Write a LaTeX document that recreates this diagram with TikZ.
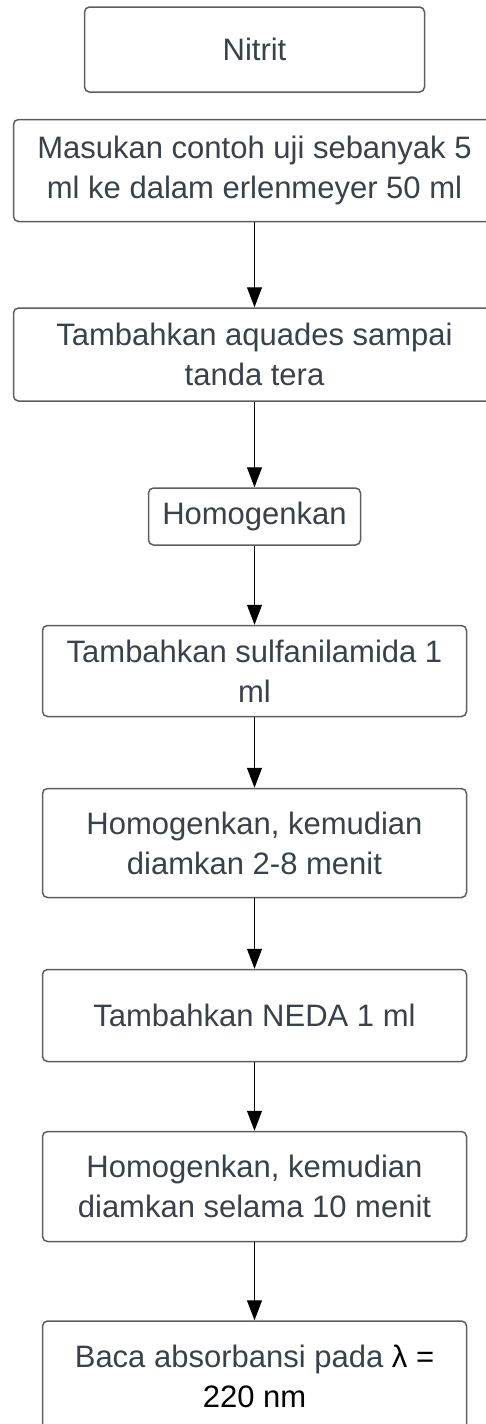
\documentclass[tikz,border=0pt]{standalone}
\usepackage{fontspec}
\setmainfont{Liberation Sans}
\usetikzlibrary{arrows.meta,positioning}
\definecolor{boxline}{HTML}{5E5E5E}
\definecolor{steptext}{HTML}{3A414A}
\tikzset{
  stepbox/.style={draw=boxline, line width=0.75pt, rounded corners=2.5pt, align=center,
    text=steptext, inner sep=2pt, font=\fontsize{15.5pt}{20pt}\selectfont},
  widebox/.style={stepbox, minimum width=241pt},
  midbox/.style={stepbox, minimum width=212pt},
  arr/.style={-{Triangle[length=10pt,width=7.5pt]}, line width=0.5pt, draw=black}
}
\begin{document}
\begin{tikzpicture}[node distance=35.25pt]
    \path[use as bounding box, clip] (0,0) rectangle (243pt,-712pt);
    \node[stepbox, minimum width=170pt, minimum height=42.5pt] (nitrit) at (127.25pt,-24.75pt) {Nitrit};
    \node[widebox, minimum height=51pt, below=13pt of nitrit] (sampel) {Masukan contoh uji sebanyak 5\\ml ke dalam erlenmeyer 50 ml};
    \node[widebox, minimum height=46.5pt, below=42.5pt of sampel] (aquades) {Tambahkan aquades sampai\\tanda tera};
    \node[stepbox, minimum width=106pt, minimum height=28.5pt, below=42.75pt of aquades] (homogen) {Homogenkan};
    \node[midbox, minimum height=45.5pt, below=39.5pt of homogen] (sulfa) {Tambahkan sulfanilamida 1\\ml};
    \node[midbox, minimum height=54.5pt, below=of sulfa] (diamA) {Homogenkan, kemudian\\diamkan 2-8 menit};
    \node[midbox, minimum height=46pt, below=of diamA] (neda) {Tambahkan NEDA 1 ml};
    \node[midbox, minimum height=55pt, below=34.25pt of neda] (diamB) {Homogenkan, kemudian\\diamkan selama 10 menit};
    \node[midbox, minimum height=55pt, below=39pt of diamB] (baca) {Baca absorbansi pada \textcolor{black}{λ =}\\\textcolor{black}{220 nm}};
    \draw[arr] (sampel) -- (aquades);
    \draw[arr] (aquades) -- (homogen);
    \draw[arr] (homogen) -- (sulfa);
    \draw[arr] (sulfa) -- (diamA);
    \draw[arr] (diamA) -- (neda);
    \draw[arr] (neda) -- (diamB);
    \draw[arr] (diamB) -- (baca);
  \end{tikzpicture}
\end{document}
